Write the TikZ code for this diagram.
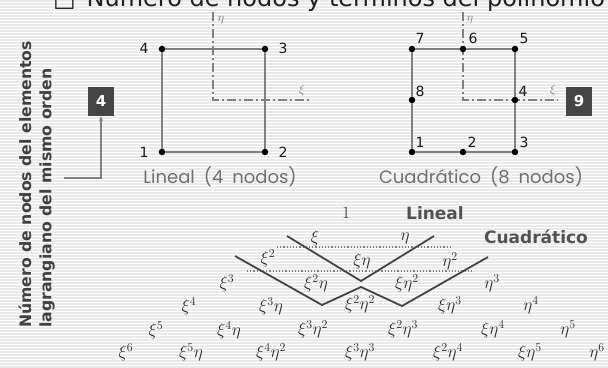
\documentclass[tikz,border=0pt]{standalone}
\usepackage{fontspec}
\usetikzlibrary{arrows.meta}
\setmainfont{DejaVu Sans}
\newfontfamily\gothicfont{Poppins}
\definecolor{darkbox}{HTML}{454545}
\definecolor{stripe}{HTML}{EAEAEA}
\definecolor{edgegray}{HTML}{808080}
\definecolor{txtgray}{HTML}{707070}
\definecolor{termcol}{HTML}{2A2A2A}
\definecolor{linecol}{HTML}{444444}
\begin{document}
\begin{tikzpicture}[x=1pt,y=-1pt,
  numbox/.style={fill=darkbox, text=white, font=\bfseries\fontsize{15}{15}\selectfont, minimum width=26pt, minimum height=29pt, inner sep=0},
  dot/.style={circle, fill=black, inner sep=0, minimum size=6.5pt},
  edge/.style={edgegray, line width=1.4pt},
  axisline/.style={edgegray, line width=1.1pt, dash pattern=on 9pt off 3pt on 2pt off 3pt},
  axislbl/.style={text=txtgray, font=\fontsize{13}{13}\selectfont, inner sep=0},
  numlbl/.style={text=black!90, font=\fontsize{14}{14}\selectfont, inner sep=0},
  caption/.style={text=txtgray, font=\gothicfont\fontsize{18}{18}\selectfont, inner sep=0},
  term/.style={text=termcol, font=\fontsize{17}{17}\selectfont, inner sep=0},
  tri/.style={linecol, line width=1.8pt},
  dotrow/.style={edgegray, line width=1.2pt, dotted},
  tag/.style={text=black!68, font=\bfseries\fontsize{17}{17}\selectfont, inner sep=0},
  sidetxt/.style={text=black!75, font=\bfseries\fontsize{15.7}{15.7}\selectfont, inner sep=0, rotate=90, anchor=west}
]
\useasboundingbox (0,0) rectangle (608,367);
\clip (0,0) rectangle (608,367);
\fill[white] (0,0) rectangle (608,367);
\foreach \yy in {1,4,...,367} \draw[stripe, line width=1.2pt] (0,\yy) -- (608,\yy);

% title (cut at the top)
\node[anchor=base west, inner sep=0, text=black!88, font=\fontsize{24}{24}\selectfont] (title) at (53,6) {□\hspace{0.45em}Número de nodos y términos del polinomio};

% side text
\node[sidetxt] (side1) at (25,328) {Número de nodos del elementos};
\node[sidetxt] (side2) at (47,328) {lagrangiano del mismo orden};

% boxes
\node[numbox] (b4) at (101,101.5) {4};
\node[numbox] (b9) at (579,101) {9};
\coordinate (arrstart) at (64,178);
\draw[edgegray, line width=1.1pt, -{Stealth[length=5pt,width=4pt]}] (arrstart) -| (b4.south);

% Lineal element
\draw[axisline] (213,12) -- (213,100) -- (310,100);
\node[axislbl] (leta) at (221,20) {$\eta$};
\node[axislbl] (lxi) at (302,90) {$\xi$};
\node[dot] (L1) at (162,152) {};
\node[dot] (L2) at (265,152) {};
\node[dot] (L3) at (265,49) {};
\node[dot] (L4) at (162,49) {};
\draw[edge] (L1) -- (L2) -- (L3) -- (L4) -- (L1);
\node[numlbl] (l1) at (144,152) {1};
\node[numlbl] (l2) at (283,152) {2};
\node[numlbl] (l3) at (283,48) {3};
\node[numlbl] (l4) at (144,48) {4};
\node[caption] (capL) at (220,177) {Lineal\hspace{0.5em}(4\hspace{0.5em}nodos)};

% Cuadratico element
\draw[axisline] (463,12) -- (463,100) -- (558,100);
\node[axislbl] (qeta) at (470,20) {$\eta$};
\node[axislbl] (qxi) at (553,90) {$\xi$};
\node[dot] (Q1) at (412,152) {};
\node[dot] (Q2) at (463,152) {};
\node[dot] (Q3) at (515,152) {};
\node[dot] (Q4) at (515,100) {};
\node[dot] (Q5) at (515,49) {};
\node[dot] (Q6) at (463,49) {};
\node[dot] (Q7) at (412,49) {};
\node[dot] (Q8) at (412,100) {};
\draw[edge] (Q1) -- (Q2) -- (Q3) -- (Q4) -- (Q5) -- (Q6) -- (Q7) -- (Q8) -- (Q1);
\node[numlbl] (q1) at (420,142) {1};
\node[numlbl] (q2) at (472,142) {2};
\node[numlbl] (q3) at (524,142) {3};
\node[numlbl] (q4) at (523,91) {4};
\node[numlbl] (q5) at (524,38) {5};
\node[numlbl] (q6) at (473,38) {6};
\node[numlbl] (q7) at (420,38) {7};
\node[numlbl] (q8) at (420,91) {8};
\node[caption] (capQ) at (481,177) {Cuadrático\hspace{0.5em}(8\hspace{0.5em}nodos)};

% Pascal triangle
\draw[dotrow] (277,247) -- (453,247);
\draw[dotrow] (247,271) -- (473,271);
\coordinate (v1) at (287,236);
\coordinate (v2) at (361,281);
\coordinate (v3) at (434,236);
\draw[tri] (v1) -- (v2) -- (v3);
\coordinate (w1) at (235,256);
\coordinate (w2) at (322,305);
\coordinate (w3) at (361,287);
\coordinate (w4) at (402,306);
\coordinate (w5) at (488,257);
\draw[tri] (w1) -- (w2) -- (w3) -- (w4) -- (w5);

\node[term] (t00) at (346,213) {$1$};
\node[tag] (tagL) at (435,213) {Lineal};
\node[tag] (tagQ) at (536,237) {Cuadrático};

\node[term] (t10) at (315,238) {$\xi$};
\node[term] (t01) at (405,238) {$\eta$};

\node[term] (t20) at (268,258) {$\xi^2$};
\node[term] (t11) at (362,261) {$\xi\eta$};
\node[term] (t02) at (450,261) {$\eta^2$};

\node[term] (t30) at (227,283) {$\xi^3$};
\node[term] (t21) at (316,283) {$\xi^2\eta$};
\node[term] (t12) at (407,283) {$\xi\eta^2$};
\node[term] (t03) at (492,283) {$\eta^3$};

\node[term] (t40) at (189,306) {$\xi^4$};
\node[term] (t31) at (271,306) {$\xi^3\eta$};
\node[term] (t22) at (360,304) {$\xi^2\eta^2$};
\node[term] (t13) at (450,305) {$\xi\eta^3$};
\node[term] (t04) at (531,305) {$\eta^4$};

\node[term] (t50) at (156,330) {$\xi^5$};
\node[term] (t41) at (229,330) {$\xi^4\eta$};
\node[term] (t32) at (313,329) {$\xi^3\eta^2$};
\node[term] (t23) at (403,329) {$\xi^2\eta^3$};
\node[term] (t14) at (493,329) {$\xi\eta^4$};
\node[term] (t05) at (568,329) {$\eta^5$};

\node[term] (t60) at (126,352) {$\xi^6$};
\node[term] (t51) at (191,352) {$\xi^5\eta$};
\node[term] (t42) at (271,352) {$\xi^4\eta^2$};
\node[term] (t33) at (360,352) {$\xi^3\eta^3$};
\node[term] (t24) at (448,352) {$\xi^2\eta^4$};
\node[term] (t15) at (530,352) {$\xi\eta^5$};
\node[term] (t06) at (597,352) {$\eta^6$};
\end{tikzpicture}
\end{document}
